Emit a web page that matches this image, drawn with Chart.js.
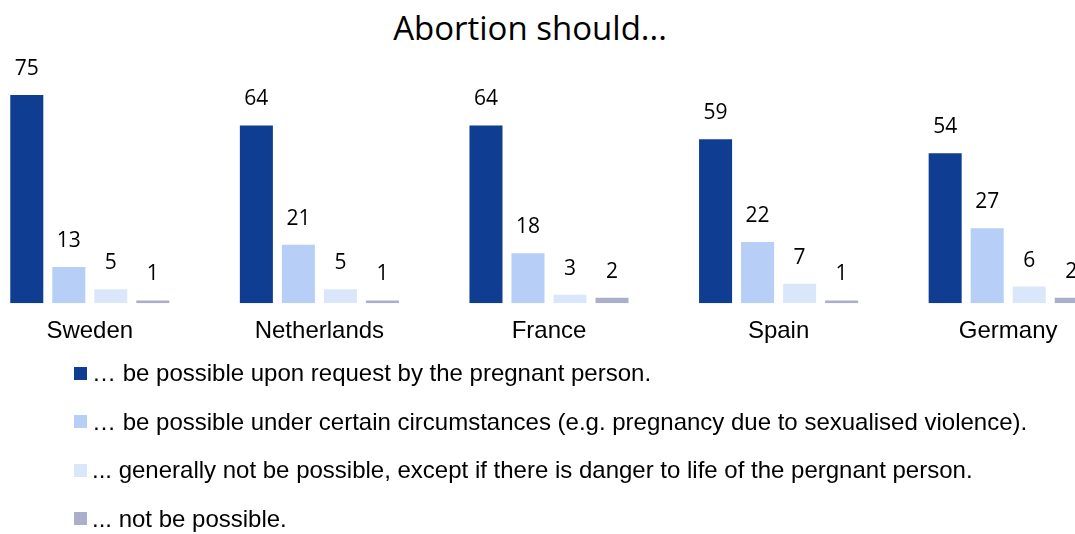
<!DOCTYPE html>
<html>
<head>
<meta charset="utf-8">
<script src="https://cdn.jsdelivr.net/npm/chart.js@4"></script>
<style>
  html, body { margin: 0; padding: 0; background: #fff; overflow: hidden; width: 1075px; height: 534px; }
  #title { position: absolute; left: 0; width: 1060px; top: 5px; line-height: 45px; text-align: center; font-family: 'Open Sans', sans-serif; font-size: 33px; color: #000; }
  #wrap { position: absolute; left: -25px; top: 0; width: 1148px; height: 360px; }
  #legend { position: absolute; left: 74px; top: 359px; font-family: 'Liberation Sans', Arial, sans-serif; font-size: 24px; line-height: 28px; color: #000; }
  .item { height: 48.5px; display: flex; align-items: flex-start; }
  .box { width: 13px; height: 13px; margin-top: 7.5px; margin-right: 5px; flex: none; }
</style>
</head>
<body>
<div id="title">Abortion should...</div>
<div id="wrap"><canvas id="myChart"></canvas></div>
<div id="legend"></div>
<script>
const countries = ['Sweden', 'Netherlands', 'France', 'Spain', 'Germany']
const onRequest = [75, 64, 64, 59, 54]
const underCircumstances = [13, 21, 18, 22, 27]
const onlyDangerToLife = [5, 5, 3, 7, 6]
const notPossible = [1, 1, 2, 1, 2]
const seriesLabels = [
  '\u2026 be possible upon request by the pregnant person.',
  '\u2026 be possible under certain circumstances (e.g. pregnancy due to sexualised violence).',
  '... generally not be possible, except if there is danger to life of the pergnant person.',
  '... not be possible.'
]
const colors = ['#0F3D91', '#B7CEF6', '#DAE6FA', '#ABAFCA']

const ctx = document.getElementById('myChart')

// numbers over the bars
const valueLabels = {
  id: 'valueLabels',
  afterDatasetsDraw(chart) {
    const c = chart.ctx
    c.save()
    c.font = '21px "Open Sans", sans-serif'
    c.fillStyle = '#000'
    c.textAlign = 'center'
    c.textBaseline = 'middle'
    chart.data.datasets.forEach(function(ds, i) {
      chart.getDatasetMeta(i).data.forEach(function(bar, j) {
        c.fillText(ds.data[j], bar.x, bar.y - 26)
      })
    })
    c.restore()
  }
}

const data = {
  labels: countries,
  datasets: [onRequest, underCircumstances, onlyDangerToLife, notPossible].map(function(values, i) {
    return {
      label: seriesLabels[i],
      data: values,
      backgroundColor: colors[i],
      categoryPercentage: 0.732,
      barPercentage: 0.786
    }
  })
}

const config = {
  type: 'bar',
  data: data,
  plugins: [valueLabels],
  options: {
    responsive: true,
    maintainAspectRatio: false,
    animation: false,
    layout: { padding: { top: 81, left: 0, right: 0, bottom: 0 } },
    plugins: {
      legend: { display: false },
      title: { display: false },
      tooltip: { enabled: false }
    },
    scales: {
      x: {
        grid: { display: false, drawTicks: false },
        border: { display: false },
        ticks: {
          color: '#000',
          padding: 14,
          font: { family: "'Liberation Sans', Arial, sans-serif", size: 24 }
        }
      },
      y: {
        display: false,
        min: 0,
        max: 80
      }
    }
  }
}

const myChart = new Chart(ctx, config)

const legend = document.getElementById('legend')
data.datasets.forEach(function(ds) {
  const row = document.createElement('div')
  row.className = 'item'
  const box = document.createElement('span')
  box.className = 'box'
  box.style.background = ds.backgroundColor
  const txt = document.createElement('span')
  txt.textContent = ds.label
  row.appendChild(box)
  row.appendChild(txt)
  legend.appendChild(row)
})
</script>
</body>
</html>
